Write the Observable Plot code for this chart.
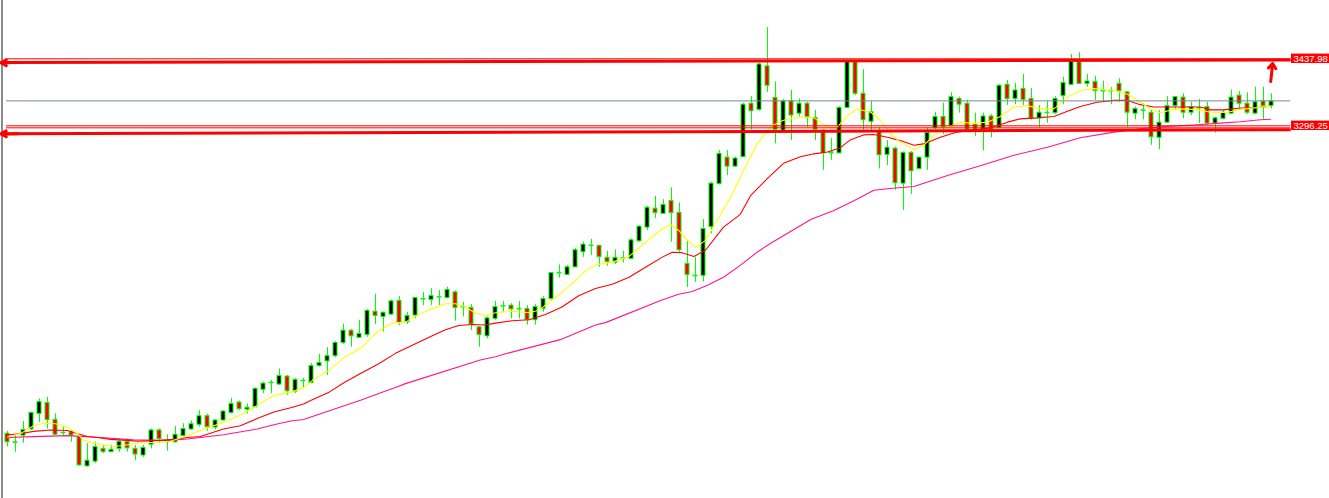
<!DOCTYPE html>
<html><head><meta charset="utf-8">
<script src="https://cdn.jsdelivr.net/npm/d3@7"></script>
<script src="https://cdn.jsdelivr.net/npm/@observablehq/plot@0.6"></script>
<style>html,body{margin:0;padding:0;background:#fff;overflow:hidden}</style>
</head><body><div id="chart"></div>
<script>
// Daily candles
const open = [2645,2627,2641,2654,2687,2710,2674,2647,2648,2638,2576,2586,2613,2606,2613,2628,2613,2599,2622,2652,
2628,2627,2640,2654,2664,2682,2658,2673,2689,2711,2696,2701,2738,2753,2749,2766,2734,2757,2752,2788,
2798,2809,2837,2863,2848,2854,2903,2892,2897,2926,2881,2895,2930,2928,2934,2932,2944,2913,2911,2870,
2851,2888,2915,2916,2909,2909,2885,2909,2930,2985,2981,2997,3029,3043,3042,3017,3007,3016,3015,3052,
3081,3121,3110,3137,3112,3004,2979,2979,3082,3173,3229,3210,3230,3343,3330,3422,3355,3286,3348,3322,
3343,3313,3286,3238,3238,3334,3431,3364,3305,3283,3235,3248,3174,3239,3205,3229,3291,3315,3295,3353,
3343,3299,3288,3316,3292,3383,3353,3374,3353,3312,3324,3323,3359,3383,3431,3385,3389,3370,3370,3385,
3367,3322,3329,3324,3271,3303,3338,3356,3324,3334,3336,3301,3311,3322,3360,3343,3322,3348,3338];
const high = [2650,2641,2671,2691,2719,2722,2687,2659,2652,2641,2624,2627,2620,2620,2634,2634,2620,2620,2655,2655,
2643,2660,2666,2672,2694,2686,2675,2694,2720,2714,2708,2742,2754,2758,2782,2768,2762,2762,2793,2813,
2827,2840,2877,2865,2885,2908,2940,2902,2928,2935,2902,2933,2944,2952,2948,2955,2947,2923,2918,2872,
2892,2925,2925,2920,2925,2916,2918,2935,2986,3002,3001,3037,3050,3056,3044,3031,3034,3031,3057,3085,
3126,3147,3140,3165,3133,3052,3018,3098,3177,3244,3244,3230,3344,3358,3429,3504,3389,3352,3371,3353,
3346,3329,3288,3269,3337,3434,3433,3415,3348,3292,3265,3251,3241,3242,3230,3292,3325,3344,3366,3357,
3350,3323,3323,3320,3384,3392,3386,3405,3375,3339,3348,3358,3399,3447,3451,3405,3401,3391,3377,3396,
3369,3336,3343,3329,3329,3358,3358,3364,3346,3352,3346,3315,3329,3372,3369,3366,3378,3378,3364];
const low = [2617,2606,2625,2652,2669,2655,2641,2641,2627,2576,2574,2582,2603,2605,2606,2606,2588,2595,2613,2624,
2608,2625,2638,2652,2659,2650,2653,2672,2687,2694,2687,2700,2730,2730,2747,2726,2730,2742,2751,2786,
2768,2806,2834,2828,2847,2849,2876,2860,2895,2874,2876,2888,2916,2916,2916,2930,2883,2892,2863,2828,
2846,2885,2902,2888,2888,2875,2875,2902,2927,2974,2980,2996,3018,3022,2997,2999,3003,3006,3013,3050,
3075,3100,3109,3050,3029,2954,2965,2966,3068,3171,3191,3209,3229,3287,3327,3367,3258,3285,3265,3315,
3293,3265,3202,3223,3237,3334,3360,3286,3283,3205,3212,3160,3117,3151,3203,3202,3288,3278,3293,3323,
3286,3274,3243,3271,3290,3339,3341,3339,3308,3292,3302,3320,3341,3382,3384,3378,3350,3346,3341,3346,
3293,3309,3309,3255,3246,3301,3329,3311,3318,3301,3297,3281,3309,3320,3332,3320,3320,3308,3332];
const close = [2627,2626,2653,2689,2712,2674,2643,2646,2641,2578,2588,2617,2606,2611,2628,2614,2601,2615,2652,2634,
2627,2643,2655,2665,2682,2659,2673,2692,2708,2697,2700,2740,2751,2752,2767,2735,2759,2756,2788,2795,
2809,2837,2863,2851,2856,2905,2894,2901,2925,2879,2894,2932,2929,2936,2933,2949,2911,2912,2876,2854,
2889,2913,2914,2908,2908,2885,2913,2930,2985,2984,2997,3033,3045,3042,3019,3008,3017,3015,3054,3083,
3123,3112,3129,3112,3033,2981,2978,3078,3174,3237,3210,3227,3341,3327,3426,3381,3288,3348,3318,3343,
3315,3288,3238,3240,3334,3431,3364,3308,3325,3234,3250,3175,3239,3200,3229,3281,3315,3293,3357,3341,
3288,3288,3316,3288,3381,3353,3371,3351,3311,3324,3323,3353,3387,3432,3385,3390,3370,3369,3369,3370,
3324,3332,3328,3272,3303,3338,3357,3324,3336,3333,3301,3312,3324,3356,3343,3324,3346,3338,3348];

// Moving averages: [candle index, price]
const maFast = [[0,2638],[1.6,2645],[3.25,2662],[4.5,2667],[6,2666],[7.5,2659],[8.75,2645],[9.5,2631],[11.6,2622],[13.25,2618],[14.5,2620],[16.6,2626],[18.75,2627],[20.4,2629],[22,2638],[24.1,2652],[27,2669],[29.1,2684],[31.2,2705],[33.3,2726],[35.4,2733],[37,2742],[38.1,2758],[40.2,2779],[42.25,2808],[44.3,2828],[46.4,2863],[48.1,2879],[49.75,2881],[50.6,2890],[52.7,2907],[54.75,2920],[56,2920],[57.25,2913],[58.5,2900],[59.75,2895],[61,2901],[63.1,2904],[65.2,2901],[66.4,2906],[67.7,2923],[69.3,2944],[71,2969],[72.25,2990],[73.5,3002],[75.6,3008],[77.7,3020],[79.75,3050],[81.8,3078],[82.9,3087],[83.9,3075],[85,3054],[86,3039],[87.25,3054],[88.7,3096],[90.4,3145],[92,3202],[93.7,3258],[95.4,3295],[97,3308],[99.1,3315],[100.8,3313],[101.6,3304],[102.5,3293],[103.7,3293],[105,3318],[106.2,3332],[107.9,3325],[109.1,3308],[110.4,3279],[111.6,3262],[113.3,3246],[114.5,3255],[115.8,3276],[117.5,3293],[119.1,3304],[120.8,3301],[122.5,3304],[124.1,3316],[125.8,3336],[127.5,3339],[129.1,3332],[130.8,3332],[132.5,3357],[134.1,3371],[135.8,3375],[138.3,3371],[140,3363],[141.6,3346],[142.9,3332],[144.1,3324],[145.8,3331],[147.5,3332],[149.1,3329],[150.8,3324],[152.5,3325],[154.1,3331],[155.8,3334],[157.9,3338]];
const maMid = [[0,2643],[1.6,2645],[3.25,2650],[5.4,2653],[7.5,2652],[8.75,2645],[10,2639],[11.25,2637],[12.9,2633],[15,2631],[16.25,2629],[19.1,2631],[20.75,2633],[22.5,2637],[24.1,2639],[27,2655],[29.1,2662],[31.2,2677],[33.3,2691],[35.4,2700],[37,2708],[38.1,2717],[40.2,2733],[42.25,2755],[44.3,2774],[46.4,2793],[48.5,2815],[50.6,2832],[52.7,2849],[54.75,2865],[56.4,2874],[58.1,2876],[59.75,2875],[61,2879],[63.1,2884],[65.2,2886],[67.25,2897],[69.3,2913],[71.4,2937],[73.5,2952],[75.6,2961],[77.7,2976],[79.75,2997],[81.8,3018],[83.1,3029],[84.3,3028],[85.8,3020],[87.25,3033],[89.5,3082],[91.6,3109],[92.9,3149],[95,3185],[97,3217],[99.1,3231],[100.8,3237],[102.5,3241],[104.1,3250],[105.4,3267],[107,3277],[108.3,3278],[110,3272],[111.6,3265],[113.3,3255],[114.5,3258],[116.6,3272],[118.7,3283],[120.8,3288],[122.9,3292],[125,3304],[126.6,3311],[128.7,3313],[130.8,3316],[132.5,3327],[134.1,3337],[136.2,3346],[138.3,3350],[140,3350],[141.6,3341],[143.3,3336],[145.8,3336],[149.1,3336],[150.4,3330],[152,3330],[154.1,3334],[155.8,3334],[157.9,3338]];
const maSlow = [[0,2637],[3.25,2639],[7.5,2641],[11.6,2637],[15.75,2632],[20,2631],[22.5,2634],[27,2643],[31.2,2655],[33.3,2664],[35.4,2672],[37,2675],[44.3,2717],[46.4,2730],[48.5,2743],[49.75,2751],[59.1,2801],[61,2808],[62.25,2814],[69.1,2844],[71.4,2860],[73.5,2875],[74.75,2880],[81.8,2928],[83.9,2940],[85.6,2946],[87.5,2959],[89.5,2976],[91.6,3001],[93.7,3029],[95.4,3048],[100.4,3098],[103.3,3117],[105.8,3138],[108.3,3160],[110,3163],[113.3,3168],[117.5,3191],[121.6,3212],[125.8,3234],[130,3251],[134.1,3271],[138.3,3283],[141.6,3290],[145,3295],[148.3,3298],[151.6,3302],[154.1,3305],[156.6,3309],[157.9,3310]];

// Drawn objects
const levelPrices = [3437.98, 3296.25];          // horizontal lines with price tags
const levelExtra = [3292.0];                      // second thin line under the lower level
const bidPrice = 3349;                            // bid line (grey)
const trendLines = [ {x1:-0.875, y1:3430.2, x2:160.4, y2:3435.4}, {x1:-0.875, y1:3279.4, x2:160.4, y2:3288.0} ];
const leftArrows = [ {x1:1.4, y1:3430.0, x2:-0.8, y2:3429.6}, {x1:1.4, y1:3279.6, x2:-0.8, y2:3279.2} ];
const upArrow = [ {x1:157.9, y1:3390, x2:158.15, y2:3428} ];
const lineEnd = 160.4, lineStart = -0.125, tagStart = 160.5, tagEnd = 165.25, tagText = 160.75;

const candles = open.map((o, i) => ({i, o, h: high[i], l: low[i], c: close[i]}));
const bull = candles.filter(d => d.c >= d.o);
const bear = candles.filter(d => d.c < d.o);
const pts = a => a.map(([i, v]) => ({i, v}));

const chart = Plot.plot({
  width: 1329, height: 498,
  marginTop: 0, marginBottom: 0, marginLeft: 0, marginRight: 0,
  x: {type: "linear", domain: [-0.875, 165.25], axis: null},
  y: {type: "linear", domain: [2508.03, 3561.3], axis: null},
  style: {background: "#ffffff", fontFamily: "Liberation Sans, Arial, sans-serif"},
  marks: [
    Plot.ruleX([-0.6875], {x: d => d, stroke: "#8c8c8c", strokeWidth: 2}),
    Plot.ruleX(candles, {x: "i", y1: "l", y2: "h", stroke: "#00ff00", strokeWidth: 1}),
    Plot.rect(bull, {x1: d => d.i - 0.25, x2: d => d.i + 0.25, y1: "o", y2: "c", fill: "#000000", stroke: "#00ff00", strokeWidth: 1}),
    Plot.rect(bear, {x1: d => d.i - 0.25, x2: d => d.i + 0.25, y1: "o", y2: "c", fill: "#ff0000", stroke: "#00ff00", strokeWidth: 1}),
    Plot.line(pts(maSlow), {x: "i", y: "v", stroke: "#ff1493", strokeWidth: 1.1}),
    Plot.line(pts(maMid), {x: "i", y: "v", stroke: "#ff0000", strokeWidth: 1.1}),
    Plot.line(pts(maFast), {x: "i", y: "v", stroke: "#ffff00", strokeWidth: 1.1}),
    Plot.ruleY([bidPrice], {y: d => d, x1: lineStart, x2: lineEnd, stroke: "#778899", strokeWidth: 1}),
    Plot.ruleY(levelPrices.concat(levelExtra), {y: d => d, x1: lineStart, x2: lineEnd, stroke: "#ff0000", strokeWidth: 1}),
    Plot.link(trendLines, {x1: "x1", y1: "y1", x2: "x2", y2: "y2", stroke: "#ff0000", strokeWidth: 3}),
    Plot.arrow(leftArrows, {x1: "x1", y1: "y1", x2: "x2", y2: "y2", stroke: "#ff0000", strokeWidth: 3, headLength: 9}),
    Plot.arrow(upArrow, {x1: "x1", y1: "y1", x2: "x2", y2: "y2", stroke: "#ff0000", strokeWidth: 3, headLength: 11, headAngle: 75}),
    Plot.rect(levelPrices, {x1: tagStart, x2: tagEnd, y1: d => d - 10, y2: d => d + 10, fill: "#ff0000"}),
    Plot.text(levelPrices, {x: tagText, y: d => d, text: d => d.toFixed(2), fill: "#ffffff", fontSize: 9.5, textAnchor: "start"})
  ]
});
document.getElementById("chart").append(chart);
</script>
</body></html>
